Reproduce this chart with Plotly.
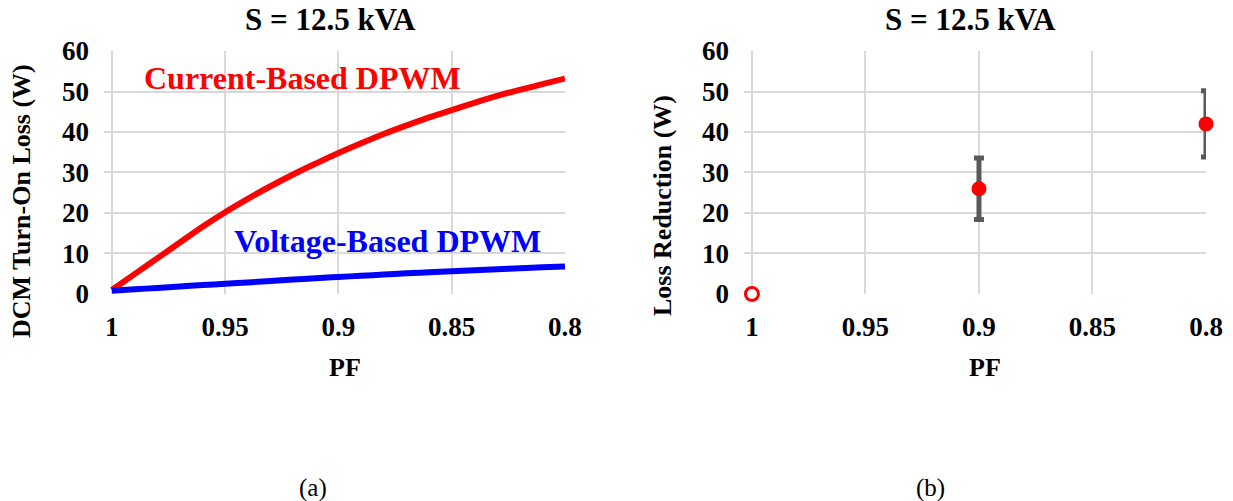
import plotly.graph_objects as go

# Panel (a): DCM turn-on loss vs power factor
pf_curve = [1.00, 0.99, 0.98, 0.97, 0.96, 0.95, 0.94, 0.93, 0.92, 0.91, 0.90,
            0.89, 0.88, 0.87, 0.86, 0.85, 0.84, 0.83, 0.82, 0.81, 0.80]
loss_current = [1.0, 4.9, 8.8, 12.7, 16.6, 20.2, 23.5, 26.6, 29.5, 32.2, 34.8,
                37.2, 39.5, 41.6, 43.6, 45.4, 47.2, 48.9, 50.4, 51.8, 53.2]
loss_voltage = [0.8, 1.15, 1.5, 1.85, 2.2, 2.5, 2.85, 3.2, 3.55, 3.9, 4.2,
                4.5, 4.8, 5.1, 5.35, 5.6, 5.85, 6.1, 6.35, 6.6, 6.8]

# Panel (b): measured loss reduction
pf_meas = [1.0, 0.9, 0.8]
reduction = [0.0, 26.0, 42.0]
reduction_err = [0.0, 7.6, 8.2]

x_ticks = [1, 0.95, 0.9, 0.85, 0.8]
x_tick_text = ["1", "0.95", "0.9", "0.85", "0.8"]
y_ticks = [0, 10, 20, 30, 40, 50, 60]

SERIF = "Liberation Serif"
GRID = "#d9d9d9"

fig = go.Figure()

fig.add_trace(go.Scatter(x=pf_curve, y=loss_current, mode="lines",
                         line=dict(color="#ff0000", width=6, shape="spline"),
                         xaxis="x", yaxis="y", showlegend=False))
fig.add_trace(go.Scatter(x=pf_curve, y=loss_voltage, mode="lines",
                         line=dict(color="#0000ff", width=6, shape="spline"),
                         xaxis="x", yaxis="y", showlegend=False))

# measured points with error bars (PF < 1)
fig.add_trace(go.Scatter(x=pf_meas[1:], y=reduction[1:], mode="markers",
                         marker=dict(color="#ff0000", size=15),
                         error_y=dict(type="data", array=reduction_err[1:],
                                      color="#595959", thickness=5, width=5),
                         xaxis="x2", yaxis="y2", showlegend=False,
                         cliponaxis=False))
# reference point at unity PF
fig.add_trace(go.Scatter(x=pf_meas[:1], y=reduction[:1], mode="markers",
                         marker=dict(color="white", size=13,
                                     line=dict(color="#ff0000", width=3)),
                         xaxis="x2", yaxis="y2", showlegend=False,
                         cliponaxis=False))

tick_font = dict(family=SERIF, size=27, color="black", weight="bold")

xaxis_common = dict(range=[1.0035, 0.8], tickvals=x_ticks, ticktext=x_tick_text,
                    showgrid=True, gridcolor=GRID, gridwidth=1.5,
                    zeroline=False, showline=False, ticks="", automargin=False,
                    tickfont=tick_font, ticklabelstandoff=14)
yaxis_common = dict(range=[0, 60], tickvals=y_ticks,
                    showgrid=True, gridcolor=GRID, gridwidth=1.5,
                    zeroline=False, showline=False, ticks="", automargin=False,
                    tickfont=tick_font, ticklabelstandoff=14)

fig.update_layout(
    width=1233, height=501,
    margin=dict(l=0, r=0, t=0, b=0),
    paper_bgcolor="white", plot_bgcolor="white",
    xaxis=dict(domain=[0.0843, 0.4582], anchor="y", **xaxis_common),
    yaxis=dict(domain=[0.4132, 0.8982], anchor="x", **yaxis_common),
    xaxis2=dict(domain=[0.6034, 0.9781], anchor="y2", **xaxis_common),
    yaxis2=dict(domain=[0.4132, 0.8982], anchor="x2", **yaxis_common),
)

title_font = dict(family=SERIF, size=31, color="black", weight="bold")
label_font = dict(family=SERIF, size=26, color="black", weight="bold")
ann = [
    dict(text="S = 12.5 kVA", x=330, y=19, font=title_font),
    dict(text="S = 12.5 kVA", x=970, y=19, font=title_font),
    dict(text="PF", x=345, y=367, font=label_font),
    dict(text="PF", x=985, y=367, font=label_font),
    dict(text="DCM Turn-On Loss (W)", x=22, y=201, font=label_font, textangle=-90),
    dict(text="Loss Reduction (W)", x=662, y=206, font=label_font, textangle=-90),
    dict(text="Current-Based DPWM", x=302, y=78,
         font=dict(family=SERIF, size=32, color="#ff0000", weight="bold")),
    dict(text="Voltage-Based DPWM", x=387, y=241,
         font=dict(family=SERIF, size=32, color="#0000ff", weight="bold")),
    dict(text="(a)", x=313, y=488, font=dict(family=SERIF, size=25, color="black")),
    dict(text="(b)", x=930, y=488, font=dict(family=SERIF, size=25, color="black")),
]
for a in ann:
    px, py = a.pop("x"), a.pop("y")
    fig.add_annotation(x=px / 1233, y=1 - py / 501, xref="paper", yref="paper",
                       xanchor="center", yanchor="middle", showarrow=False, **a)

fig.write_html("out.html")
